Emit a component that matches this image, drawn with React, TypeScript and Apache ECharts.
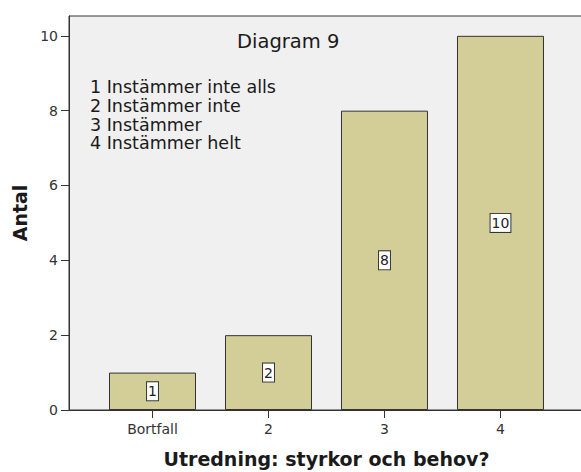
import React, { useEffect, useRef } from "react";
import * as echarts from "echarts";

const categories = ["Bortfall", "2", "3", "4"];
const counts = [1, 2, 8, 10];
const yTicks = [0, 2, 4, 6, 8, 10];
const legendLines = ["1 Instämmer inte alls", "2 Instämmer inte", "3 Instämmer", "4 Instämmer helt"];
const titleText = "Diagram 9";
const xTitle = "Utredning: styrkor och behov?";
const yTitle = "Antal";

const FONT = "DejaVu Sans";

export default function App() {
  const ref = useRef<HTMLDivElement>(null);
  useEffect(() => {
    document.body.style.margin = "0";
    const chart = echarts.init(ref.current!, null, { renderer: "svg" });
    const positions = categories.map((_, i) => i);
    chart.setOption({
      animation: false,
      backgroundColor: "#ffffff",
      grid: {
        left: 69,
        right: -3,
        top: 16,
        bottom: 62,
        containLabel: false,
        outerBoundsMode: "none",
        show: true,
        backgroundColor: "#f0f0f0",
        borderColor: "#333333",
        borderWidth: 1,
      },
      xAxis: {
        type: "value",
        min: -0.72,
        max: 3.72,
        name: xTitle,
        nameLocation: "middle",
        nameGap: 39,
        nameTextStyle: { fontFamily: FONT, fontSize: 19, fontWeight: "bold", color: "#1a1a1a" },
        axisLine: { show: true, onZero: false, lineStyle: { color: "#333", width: 1 } },
        axisTick: { show: true, length: 8, customValues: positions, lineStyle: { color: "#333" } },
        axisLabel: {
          customValues: positions,
          formatter: (v: number) => categories[Math.round(v)] ?? "",
          fontFamily: FONT,
          fontSize: 14,
          color: "#333",
          margin: 12,
        },
        splitLine: { show: false },
      },
      yAxis: {
        type: "value",
        min: 0,
        max: 10.53,
        interval: 2,
        name: yTitle,
        nameLocation: "middle",
        nameGap: 40,
        nameTextStyle: { fontFamily: FONT, fontSize: 19, fontWeight: "bold", color: "#1a1a1a" },
        axisLine: { show: true, onZero: false, lineStyle: { color: "#333", width: 1 } },
        axisTick: { show: true, length: 8, lineStyle: { color: "#333" } },
        axisLabel: {
          fontFamily: FONT,
          fontSize: 14,
          color: "#333",
          margin: 11,
          showMaxLabel: false,
          formatter: (v: number) => (yTicks.includes(v) ? String(v) : ""),
        },
        splitLine: { show: false },
      },
      graphic: [
        {
          type: "text",
          left: 237,
          top: 31,
          style: { text: titleText, fontFamily: FONT, fontSize: 19.5, fill: "#1a1a1a" },
        },
        {
          type: "text",
          left: 90,
          top: 78,
          style: {
            text: legendLines.join("\n"),
            fontFamily: FONT,
            fontSize: 17.5,
            lineHeight: 18.6,
            fill: "#1a1a1a",
          },
        },
      ],
      series: [
        {
          type: "bar",
          barWidth: 87,
          data: counts.map((c, i) => [i, c]),
          itemStyle: { color: "#d3ce97", borderColor: "#333333", borderWidth: 1 },
          label: {
            show: true,
            position: "inside",
            formatter: (p: any) => String(p.value[1]),
            fontFamily: FONT,
            fontSize: 14,
            color: "#222",
            backgroundColor: "#ffffff",
            borderColor: "#333",
            borderWidth: 1,
            padding: [2, 1],
          },
        },
      ],
    });
    return () => chart.dispose();
  }, []);
  return <div ref={ref} style={{ width: 581, height: 472 }} />;
}
